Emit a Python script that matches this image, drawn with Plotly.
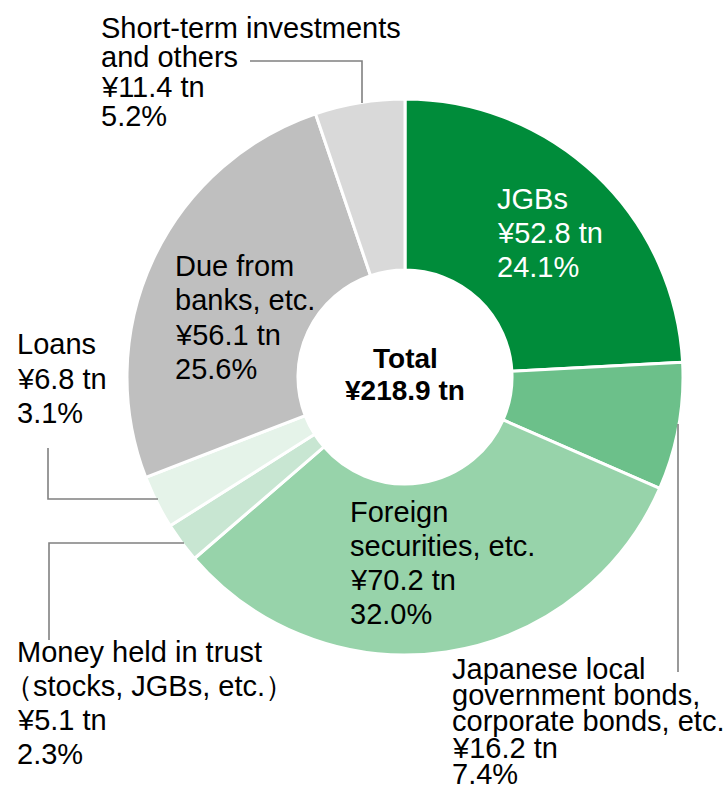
import plotly.graph_objects as go

W, H = 727, 787

# ---- data ----
labels = ["JGBs", "Japanese local government bonds, corporate bonds, etc.",
          "Foreign securities, etc.", "Money held in trust (stocks, JGBs, etc.)",
          "Loans", "Due from banks, etc.", "Short-term investments and others"]
values = [52.8, 16.2, 70.2, 5.1, 6.8, 56.1, 11.4]
amount_text = ["¥52.8 tn", "¥16.2 tn", "¥70.2 tn", "¥5.1 tn", "¥6.8 tn", "¥56.1 tn", "¥11.4 tn"]
pct_text = ["24.1%", "7.4%", "32.0%", "2.3%", "3.1%", "25.6%", "5.2%"]
name_lines = [["JGBs"],
              ["Japanese local", "government bonds,", "corporate bonds, etc."],
              ["Foreign", "securities, etc."],
              ["Money held in trust", "（stocks, JGBs, etc.）"],
              ["Loans"],
              ["Due from", "banks, etc."],
              ["Short-term investments", "and others"]]
total_text = ["Total", "¥218.9 tn"]

colors = ["#008C3A", "#6CC08A", "#97D3AA", "#C8E6D2", "#E5F3E9", "#BFBFBF", "#D9D9D9"]
text_colors = ["white", "black", "black", "black", "black", "black", "black"]

# ---- layout helpers (pixel -> paper) ----
def px(x):
    return x / W

def py(y):
    return 1 - y / H

cx, cy, R = 405, 377, 278

fig = go.Figure(go.Pie(
    labels=labels, values=values, sort=False, direction="clockwise", rotation=0,
    hole=0.385, marker=dict(colors=colors, line=dict(color="white", width=3)),
    textinfo="none", hoverinfo="label+value", showlegend=False,
    domain=dict(x=[px(cx - R), px(cx + R)], y=[py(cy + R), py(cy - R)]),
))

FONT = "Liberation Sans, Arial, sans-serif"
FS = 29
PADX = 2  # annotation inner padding compensation

# label block positions: (x of left edge, y of first line center, line spacing)
block_pos = [
    (497, 199, 34),
    (452, 669, 26.2),
    (350, 512, 34),
    (17, 652, 34),
    (17, 344, 34.5),
    (175, 266, 34.5),
    (101, 28, 29.3),
]

annotations = []
for i in range(len(labels)):
    lines = name_lines[i] + [amount_text[i], pct_text[i]]
    x0, y0, sp = block_pos[i]
    for k, ln in enumerate(lines):
        dx = -13 if ln.startswith("（") else 0  # full-width bracket side bearing
        annotations.append(dict(
            x=px(x0 - PADX + dx), y=py(y0 + k * sp), xref="paper", yref="paper",
            text=ln, showarrow=False, xanchor="left", yanchor="middle",
            font=dict(family=FONT, size=FS, color=text_colors[i]),
        ))

for k, ln in enumerate(total_text):
    annotations.append(dict(
        x=px(cx), y=py(358 + k * 32), xref="paper", yref="paper",
        text="<b>%s</b>" % ln, showarrow=False, xanchor="center", yanchor="middle",
        font=dict(family=FONT, size=28, color="black"),
    ))

# leader lines (pixel polylines)
leaders = [
    [(250, 61), (362, 61), (362, 103)],
    [(48, 448), (48, 499), (158, 499)],
    [(49, 640), (49, 543), (184, 543)],
    [(678, 424), (678, 672)],
]
shapes = []
for pts in leaders:
    path = "M " + " L ".join("%f,%f" % (px(a), py(b)) for a, b in pts)
    shapes.append(dict(type="path", path=path, xref="paper", yref="paper",
                       line=dict(color="#808080", width=1.6)))

fig.update_layout(
    width=W, height=H, margin=dict(l=0, r=0, t=0, b=0),
    paper_bgcolor="white", plot_bgcolor="white",
    annotations=annotations, shapes=shapes,
)

fig.write_html("out.html", config={"displayModeBar": False},
               post_script="document.body.style.margin='0';")
